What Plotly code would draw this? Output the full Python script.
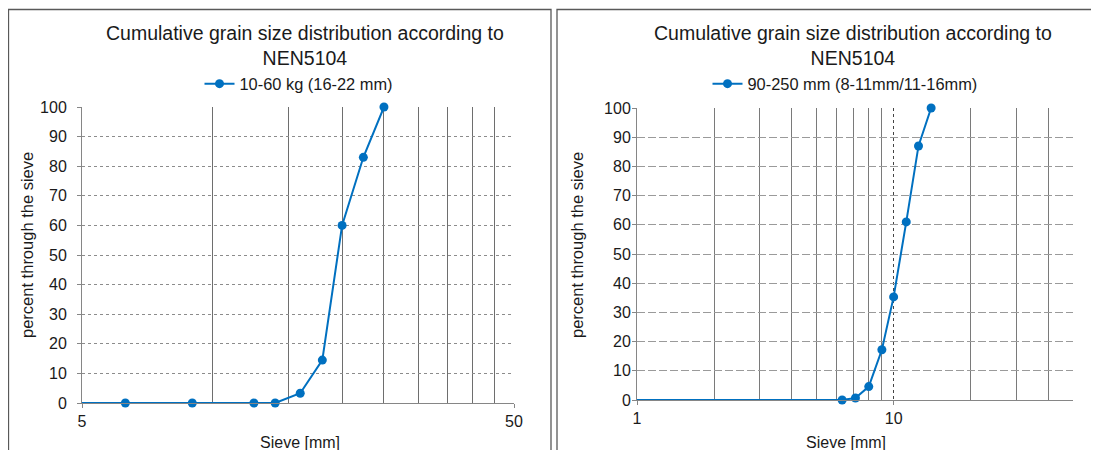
import plotly.graph_objects as go
import math

# page body has an 8px margin: the figure starts at (8, 8) in the window
OFF = 8
W, H = 1099 - OFF, 450 - OFF

# ---- data ----
left_sieve = [4, 6.3, 9, 12.5, 14, 16, 18, 20, 22.4, 25]
left_pass = [0, 0, 0, 0, 0, 3.3, 14.5, 60, 83, 100]
left_name = "10-60 kg (16-22 mm)"

right_sieve = [0.5, 6.3, 7.1, 8, 9, 10, 11.2, 12.5, 14]
right_pass = [0, 0, 0.7, 4.6, 17.2, 35.3, 61, 87, 100]
right_name = "90-250 mm (8-11mm/11-16mm)"

title_text = "Cumulative grain size distribution according to<br>NEN5104"
x_title = "Sieve [mm]"
y_title = "percent through the sieve"

left_xticks = [5, 50]
left_xminor = [10, 15, 20, 25, 30, 35, 40, 45]
right_xticks = [1, 10]
right_xminor = [2, 3, 4, 5, 6, 7, 8, 9, 20, 30, 40, 50]
yticks = list(range(0, 101, 10))

BLUE = "#0070C0"
FONT = "Liberation Sans, Arial, sans-serif"
TXT = "#1a1a1a"


def px_x(p):
    return (p - OFF) / W


def px_y(p):
    return 1 - (p - OFF) / H


fig = go.Figure()

fig.add_trace(go.Scatter(
    x=left_sieve, y=left_pass, mode="lines+markers", name=left_name,
    line=dict(color=BLUE, width=2), marker=dict(color=BLUE, size=9),
    xaxis="x", yaxis="y", cliponaxis=False, legend="legend"))
fig.add_trace(go.Scatter(
    x=right_sieve, y=right_pass, mode="lines+markers", name=right_name,
    line=dict(color=BLUE, width=2), marker=dict(color=BLUE, size=9),
    xaxis="x2", yaxis="y2", cliponaxis=False, legend="legend2"))

axis_common = dict(
    showline=True, linecolor="#868686", linewidth=1,
    ticks="outside", ticklen=4, tickcolor="#868686",
    tickfont=dict(family=FONT, size=16, color=TXT),
    zeroline=False, automargin=False,
)

fig.update_layout(
    width=W, height=H,
    margin=dict(l=0, r=0, t=0, b=0, pad=0, autoexpand=False),
    paper_bgcolor="white", plot_bgcolor="white",
    font=dict(family=FONT, color=TXT),
    xaxis=dict(
        type="log", range=[math.log10(5), math.log10(50)],
        domain=[px_x(82), px_x(514)], anchor="y",
        tickmode="array", tickvals=left_xticks, ticktext=[str(v) for v in left_xticks],
        showgrid=True, gridcolor="#a0a0a0", griddash="dot", gridwidth=1,
        minor=dict(tickmode="array", tickvals=left_xminor, showgrid=True,
                   gridcolor="#6e6e6e", griddash="solid", gridwidth=1, ticks=""),
        **axis_common),
    yaxis=dict(
        range=[0, 100], domain=[px_y(403), px_y(107)], anchor="x",
        tickmode="array", tickvals=yticks, ticklabelstandoff=7,
        showgrid=True, gridcolor="#8c8c8c", griddash="dot", gridwidth=1,
        **axis_common),
    xaxis2=dict(
        type="log", range=[0, math.log10(50)],
        domain=[px_x(637), px_x(1073)], anchor="y2",
        tickmode="array", tickvals=right_xticks, ticktext=[str(v) for v in right_xticks],
        showgrid=True, gridcolor="#444444", griddash="dot", gridwidth=1,
        minor=dict(tickmode="array", tickvals=right_xminor, showgrid=True,
                   gridcolor="#7a7a7a", griddash="solid", gridwidth=1, ticks=""),
        **axis_common),
    yaxis2=dict(
        range=[0, 100], domain=[px_y(400), px_y(108)], anchor="x2",
        tickmode="array", tickvals=yticks, ticklabelstandoff=-2,
        showgrid=True, gridcolor="#9a9a9a", griddash="8px,3px", gridwidth=1,
        **axis_common),
    legend=dict(x=px_x(299), y=px_y(84), xanchor="center", yanchor="middle",
                orientation="h", font=dict(family=FONT, size=16.4, color=TXT),
                bgcolor="rgba(0,0,0,0)", itemwidth=30),
    legend2=dict(x=px_x(845), y=px_y(84), xanchor="center", yanchor="middle",
                 orientation="h", font=dict(family=FONT, size=16.4, color=TXT),
                 bgcolor="rgba(0,0,0,0)", itemwidth=30),
    showlegend=True,
)

# chart titles
for cx in (305, 853):
    fig.add_annotation(
        x=px_x(cx), y=px_y(20), xref="paper", yref="paper",
        xanchor="center", yanchor="top", showarrow=False,
        text=title_text, align="center",
        font=dict(family=FONT, size=19.5, color=TXT))

# axis titles
for cx in (300, 846):
    fig.add_annotation(
        x=px_x(cx), y=px_y(442), xref="paper", yref="paper",
        xanchor="center", yanchor="middle", showarrow=False,
        text=x_title, font=dict(family=FONT, size=16, color=TXT))
for cx in (27, 577):
    fig.add_annotation(
        x=px_x(cx), y=px_y(245), xref="paper", yref="paper",
        xanchor="center", yanchor="middle", showarrow=False, textangle=-90,
        text=y_title, font=dict(family=FONT, size=16.5, color=TXT))

# panel borders
fig.add_shape(type="rect", xref="paper", yref="paper",
              x0=px_x(8.5), x1=px_x(551), y0=-0.05, y1=px_y(9.5),
              line=dict(color="#595959", width=1.3), fillcolor="rgba(0,0,0,0)", layer="below")
fig.add_shape(type="rect", xref="paper", yref="paper",
              x0=px_x(557), x1=1.05, y0=-0.05, y1=px_y(9.5),
              line=dict(color="#595959", width=1.3), fillcolor="rgba(0,0,0,0)", layer="below")

fig.write_html("out.html")
